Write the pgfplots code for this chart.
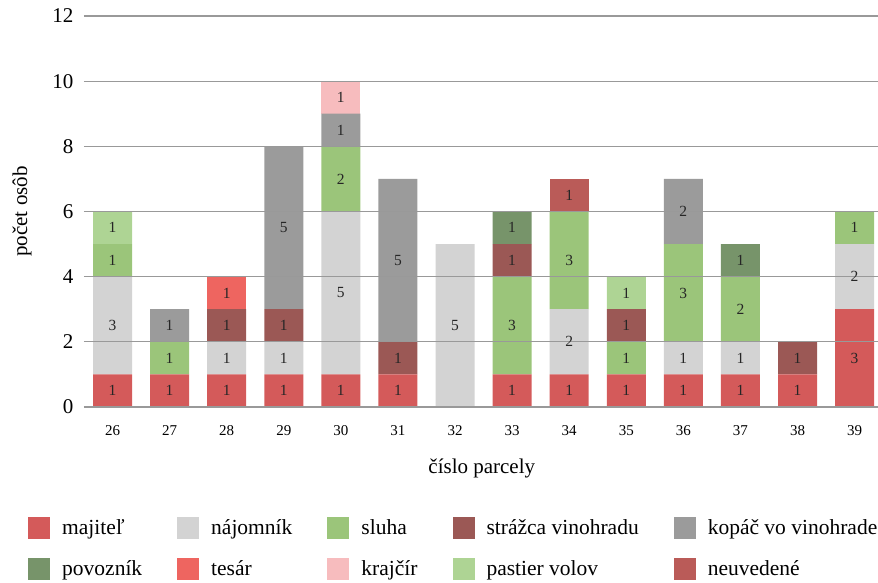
\documentclass[border=0pt]{standalone}
\usepackage{pgfplots}
\usepackage{pgfplotstable}
\pgfplotsset{compat=1.18}
\usepackage{fontspec}
\setmainfont{Liberation Serif}
\definecolor{cmaj}{RGB}{212,90,90}
\definecolor{cnaj}{RGB}{211,211,211}
\definecolor{cslu}{RGB}{155,197,122}
\definecolor{cstr}{RGB}{155,88,85}
\definecolor{ckop}{RGB}{155,155,155}
\definecolor{cpov}{RGB}{119,148,106}
\definecolor{ctes}{RGB}{238,101,96}
\definecolor{ckra}{RGB}{247,188,190}
\definecolor{cpas}{RGB}{174,212,148}
\definecolor{cneu}{RGB}{186,91,88}
\pgfplotstableread{
x maj naj slu str kop pov tes kra pas neu
0 1 3 1 0 0 0 0 0 1 0
1 1 0 1 0 1 0 0 0 0 0
2 1 1 0 1 0 0 1 0 0 0
3 1 1 0 1 5 0 0 0 0 0
4 1 5 2 0 1 0 0 1 0 0
5 1 0 0 1 5 0 0 0 0 0
6 0 5 0 0 0 0 0 0 0 0
7 1 0 3 1 0 1 0 0 0 0
8 1 2 3 0 0 0 0 0 0 1
9 1 0 1 1 0 0 0 0 1 0
10 1 1 3 0 2 0 0 0 0 0
11 1 1 2 0 0 1 0 0 0 0
12 1 0 0 1 0 0 0 0 0 0
13 3 2 1 0 0 0 0 0 0 0
}\data
\begin{document}
\begin{tikzpicture}
\path[use as bounding box] (0,0) rectangle (878pt,583pt);
\begin{axis}[
  at={(84pt,176pt)}, anchor=south west,
  scale only axis, width=794pt, height=391pt,
  ybar stacked, bar width=39pt,
  xmin=-0.5, xmax=13.41, ymin=0, ymax=12,
  xtick={0,...,13},
  xticklabels={26,27,28,29,30,31,32,33,34,35,36,37,38,39},
  ytick={0,2,...,12},
  ymajorgrids, major grid style={draw=black!40, line width=1.1pt},
  axis line style={draw=none}, major tick length=0pt,
  axis on top,
  /pgf/number format/assume math mode=true,
  x tick label style={font=\fontsize{15}{18}\selectfont, anchor=center, yshift=-24pt},
  y tick label style={font=\fontsize{21}{25}\selectfont, xshift=-7pt},
  xlabel={číslo parcely}, ylabel={počet osôb},
  label style={font=\fontsize{21}{25}\selectfont},
  xlabel style={at={(axis description cs:0.501,-0.156)}, anchor=center},
  ylabel style={at={(axis description cs:-0.078,0.5)}, anchor=center},
  point meta=explicit symbolic,
  nodes near coords={\ifnum\pgfplotspointmeta>0 \pgfplotspointmeta\fi},
  every node near coord/.append style={font=\fontsize{15.5}{18}\selectfont, anchor=center, text=black!85},
  legend columns=5,
  legend cell align=left,
  legend style={at={(-0.0743,-0.276)}, anchor=north west, draw=none,
    font=\fontsize{21.5}{25}\selectfont, row sep=19pt,
    /tikz/every odd column/.append style={column sep=10pt},
    /tikz/every even column/.append style={column sep=33pt}},
  legend image code/.code={\fill[#1] (0pt,-11pt) rectangle (22pt,11pt);},
]
\addplot[fill=cmaj, draw=none] table[x=x,y=maj,meta=maj]{\data};
\addlegendentry{majiteľ}
\addplot[fill=cnaj, draw=none] table[x=x,y=naj,meta=naj]{\data};
\addlegendentry{nájomník}
\addplot[fill=cslu, draw=none] table[x=x,y=slu,meta=slu]{\data};
\addlegendentry{sluha}
\addplot[fill=cstr, draw=none] table[x=x,y=str,meta=str]{\data};
\addlegendentry{strážca vinohradu}
\addplot[fill=ckop, draw=none] table[x=x,y=kop,meta=kop]{\data};
\addlegendentry{kopáč vo vinohrade}
\addplot[fill=cpov, draw=none] table[x=x,y=pov,meta=pov]{\data};
\addlegendentry{povozník}
\addplot[fill=ctes, draw=none] table[x=x,y=tes,meta=tes]{\data};
\addlegendentry{tesár}
\addplot[fill=ckra, draw=none] table[x=x,y=kra,meta=kra]{\data};
\addlegendentry{krajčír}
\addplot[fill=cpas, draw=none] table[x=x,y=pas,meta=pas]{\data};
\addlegendentry{pastier volov}
\addplot[fill=cneu, draw=none] table[x=x,y=neu,meta=neu]{\data};
\addlegendentry{neuvedené}
\end{axis}
\end{tikzpicture}
\end{document}
